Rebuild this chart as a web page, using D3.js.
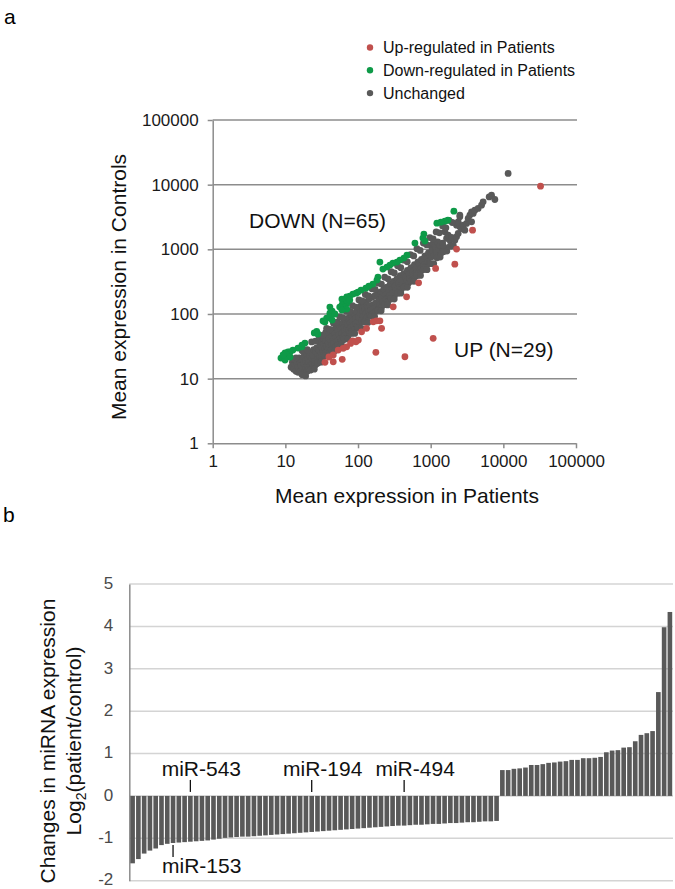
<!DOCTYPE html>
<html><head><meta charset="utf-8">
<script src="https://cdn.jsdelivr.net/npm/d3@7"></script>
<style>
body{margin:0;background:#fff}
svg{display:block}
text{font-family:"Liberation Sans",Arial,Helvetica,sans-serif}
</style>
</head><body>
<svg id="chart" width="675" height="889"></svg>
<script>
// ---------- Panel a data (Mean expression: [Patients, Controls]) ----------
const legendLabels = ["Up-regulated in Patients", "Down-regulated in Patients", "Unchanged"];
const groupLabels = ["DOWN (N=65)", "UP (N=29)"];
const logTicks = [1, 10, 100, 1000, 10000, 100000];

const upRegulated = [
  [32500,9480],[3770,1980],[2270,1010],[2150,590],[1170,507],[682,303],[466,184],[305,129],
  [200,78.5],[180,78.5],[162,75.7],[211,60],[131,60],[112,53],[1082,42],[101,39.5],[93.6,37.2],
  [84.3,38.5],[79,35.1],[69.7,31.1],[62.5,29.4],[53.4,27.7],[176,25.5],[45.6,23.2],[442,21.8],
  [60.6,19.9],[45.6,18.2],[35.1,17.9],[39.8,21.6]
];

const downRegulated = [
  [2085,3894],[1724,2825],[1568,2728],[1381,2632],[1217,2540],[806,1718],[781,1490],[832,1340],
  [607,1247],[471,813],[428,731],[377,681],[343,634],[302,612],[275,570],[250,531],[220,494],
  [200,634],[188,372],[182,334],[160,290],[141,270],[128,251],[110,234],[94,210],[85,203],
  [77,189],[70,183],[66,170],[60,170],[62,153],[70,147],[77,164],[60,137],[66,128],[56,128],
  [70,119],[60,115],[41,128],[41,103],[44,111],[37,86],[41,89.5],[35,75],[33,78],[44,80.5],
  [27,54],[25,51],[28,49],[18.6,35.5],[16.9,33],[16.9,31],[11.6,25.8],[10.9,25.8],[9.9,24.9],
  [10.5,23.2],[9.3,21.6],[8.7,20.8],[11.6,21.6],[9.9,19.4],[9.3,23.2],[14.9,29.7],[12.7,27.7],
  [100,218],[48,100]
];

const unchanged = [
  [12,15],[12.5,18],[13,14],[13,20],[13.5,16.5],[14,13],[14,19],[14.5,17],[15,12.5],[15,15],
  [15.5,21],[16,13],[16,18],[16.5,16],[17,12.5],[17,20],[17.5,14],[18,17],[18,22],[18.5,13],
  [19,15],[19,19],[19.5,24],[20,13],[20,16],[20.5,20],[21,14],[21,18],[21.5,23],[22,16],
  [22,26],[22.5,14],[23,20],[23.5,17],[24,15],[24,23],[24.5,28],[25,19],[25.5,16],[26,22],
  [26,26],[27,17],[27,30],[27.5,20],[28,24],[28.5,18],[29,27],[29.5,19],[30,22],[30,33],
  [31,25],[31,38],[32,21],[32,30],[33,27],[33,42],[34,23],[34,34],[35,29],[35,45],
  [36,25],[36,38],[36,52],[37,32],[38,27],[38,48],[39,36],[40,30],[40,42],[41,26],
  [42,39],[42,52],[43,33],[44,45],[45,29],[45,56],[46,40],[47,35],[48,50],[49,31],
  [50,44],[50,62],[52,38],[52,74],[53,55],[54,34],[55,48],[56,66],[57,42],[58,37],
  [59,58],[60,50],[61,72],[62,44],[63,40],[64,62],[65,54],[67,47],[68,78],[70,60],
  [71,42],[72,68],[74,55],[75,88],[77,50],[78,72],[78,110],[80,62],[82,95],[83,56],
  [85,78],[87,66],[89,102],[90,58],[92,84],[94,72],[96,110],[98,64],
  [102,90],[104,125],[106,72],[108,100],[110,135],[112,80],[115,110],[118,92],[120,145],[122,78],
  [125,118],[128,100],[130,155],[133,88],[136,125],[139,110],[142,170],[145,95],[148,135],[151,115],
  [155,180],[158,100],[162,140],[165,122],[170,190],[173,110],[177,150],[181,128],[185,205],[190,118],
  [195,165],[200,140],[205,220],[210,125],[215,180],[220,155],[226,240],[232,140],[238,195],[244,170],
  [250,260],[256,155],[263,215],[270,190],[277,290],[284,170],[292,240],[300,210],[308,320],[316,190],
  [325,270],[334,230],[343,350],[352,210],[362,300],[372,255],[382,390],[393,240],[404,330],[415,285],
  [427,420],[440,265],[452,370],[465,320],[478,470],[492,300],[506,410],[520,355],[535,520],[550,330],
  [566,450],[582,400],[598,580],[615,380],[632,510],[650,450],[668,640],[687,430],[706,590],[726,500],
  [746,700],[767,480],[789,650],[811,570],[834,790],[857,540],[881,720],[906,640],[932,880],[958,600],
  [985,800],
  [1000,1150],[1020,760],[1050,980],[1090,1250],[1120,820],[1160,1060],[1200,900],[1250,1300],[1300,1000],
  [1350,1150],[1400,880],[1460,1250],[1520,1094],[1567,1862],[1655,1473],[1740,1657],[1837,1387],
  [1938,1528],[2150,1387],[2270,1560],[2270,2365],[2390,1762],[2390,2660],[2520,2230],[2520,3185],
  [2520,3380],[2660,2100],[2800,2365],[2950,1980],[3120,2515],[3280,3005],[3460,3380],[3655,2660],
  [3655,3800],[3845,3590],[4055,4035],[4500,4285],[5010,4820],[5270,5420],[6380,6470],[6880,6880],
  [7640,5900],[11640,14900],
  // upper side of the unchanged band
  [14,21],[17,27],[20,28],[23,37],[26,38],[29,46],[33,47],[37,60],[41,58],[46,72],
  [50,74],[56,90],[62,88],[69,110],[76,108],[84,135],[93,128],[103,165],[114,160],[126,200],
  [140,190],[155,245],[172,240],[190,300],[210,290],[233,370],[258,350],[286,450],[316,430],[350,555],
  [388,520],[430,680],[476,640],[527,830],[584,790],[647,1020],[716,960],[793,1250],[878,1180],[972,1520],
  [1080,1450],[1190,1860],[1320,1800],[1460,2300],[1620,2150],[1790,2800],[1980,2600],
  // lower side of the unchanged band
  [17,11.5],[19,11],[22,13.5],[25,14],[28,17.5],[31,18],[35,22.5],[39,22.5],[43,27],[48,27],
  [53,33],[59,34],[66,41],[73,41],[81,50],[90,50],[100,61],[111,60],[123,75],[137,74],
  [152,92],[169,92],[187,113],[208,112],[231,140],[256,138],[284,172],[315,170],[350,212],[388,210],
  [430,260],[477,258],[530,320],[588,320],[652,395],[724,395],[803,490],[891,485],[989,600],[1100,600],
  [1220,740],[1350,760],[1500,920],[1670,940],[1850,1120],[2050,1140]
];

// ---------- Panel b data (log2 patient/control) ----------
const downLog2 = [
  -1.59,-1.49,-1.36,-1.29,-1.24,-1.16,-1.13,-1.11,-1.10,-1.09,
  -1.08,-1.07,-1.06,-1.05,-1.03,-1.01,-0.99,-0.98,-0.97,-0.96,
  -0.96,-0.95,-0.94,-0.93,-0.92,-0.91,-0.90,-0.89,-0.88,-0.87,
  -0.86,-0.85,-0.84,-0.83,-0.82,-0.81,-0.80,-0.79,-0.78,-0.77,
  -0.76,-0.75,-0.74,-0.73,-0.72,-0.71,-0.70,-0.70,-0.69,-0.68,
  -0.68,-0.67,-0.66,-0.66,-0.65,-0.64,-0.64,-0.63,-0.62,-0.62,
  -0.61,-0.60,-0.60,-0.59
];
const upLog2 = [
  0.61,0.61,0.64,0.65,0.67,0.73,0.73,0.75,0.78,0.79,
  0.81,0.82,0.85,0.85,0.89,0.89,0.90,0.92,1.03,1.07,
  1.08,1.14,1.15,1.29,1.44,1.48,1.53,2.45,3.98,4.34
];
const barTicks = [-2, -1, 0, 1, 2, 3, 4, 5];
const annotations = [
  {label: "miR-153", index: 7, side: "below"},
  {label: "miR-543", index: 10, side: "above"},
  {label: "miR-194", index: 31, side: "above"},
  {label: "miR-494", index: 47, side: "above"}
];

// ---------- drawing ----------
const svg = d3.select("#chart");
const RED = "#c0504d", GREEN = "#0e9a48", GRAY = "#595959";
const GRID = "#8c8c8c";

svg.append("text").attr("x", 4).attr("y", 24).attr("font-size", 21)
  .attr("font-family", "'Open Sans', sans-serif").text("a");
svg.append("text").attr("x", 3).attr("y", 522).attr("font-size", 21)
  .attr("font-family", "'Open Sans', sans-serif").text("b");

const sx = d3.scaleLog().domain([1, 100000]).range([212.7, 576]);
const sy = d3.scaleLog().domain([1, 100000]).range([443.3, 120]);

svg.append("g").selectAll("line").data(logTicks.filter(d => d > 1)).join("line")
  .attr("x1", 212.7).attr("x2", 577)
  .attr("y1", d => sy(d)).attr("y2", d => sy(d))
  .attr("stroke", GRID).attr("stroke-width", 1.5);

const fmt = d => String(d);
const xAxis = svg.append("g").attr("transform", "translate(0,443.3)")
  .call(d3.axisBottom(sx).tickValues(logTicks).tickFormat(fmt).tickSize(5).tickSizeOuter(0).tickPadding(7));
const yAxis = svg.append("g").attr("transform", "translate(212.7,0)")
  .call(d3.axisLeft(sy).tickValues(logTicks).tickFormat(fmt).tickSize(5).tickSizeOuter(0).tickPadding(9));
[xAxis, yAxis].forEach(g => {
  g.select(".domain").attr("stroke", GRID).attr("stroke-width", 1.5);
  g.selectAll(".tick line").attr("stroke", GRID).attr("stroke-width", 1.5);
  g.selectAll(".tick text").attr("font-size", 17).attr("fill", "#1a1a1a")
    .attr("font-family", "'Liberation Sans', Arial, sans-serif");
});

svg.append("text").attr("x", 407).attr("y", 503).attr("text-anchor", "middle")
  .attr("font-size", 21).attr("fill", "#111").text("Mean expression in Patients");
svg.append("text").attr("transform", "translate(126,287) rotate(-90)").attr("text-anchor", "middle")
  .attr("font-size", 21).attr("fill", "#111").text("Mean expression in Controls");

const groups = [
  {data: unchanged, color: GRAY},
  {data: downRegulated, color: GREEN},
  {data: upRegulated, color: RED}
];
groups.forEach(g => {
  svg.append("g").selectAll("circle").data(g.data).join("circle")
    .attr("cx", d => sx(d[0])).attr("cy", d => sy(d[1])).attr("r", 3.4)
    .attr("fill", g.color);
});

svg.append("text").attr("x", 249).attr("y", 228).attr("font-size", 21).attr("fill", "#111").text(groupLabels[0]);
svg.append("text").attr("x", 454).attr("y", 357).attr("font-size", 21).attr("fill", "#111").text(groupLabels[1]);

const legColors = [RED, GREEN, GRAY];
const leg = svg.append("g").selectAll("g").data(legendLabels).join("g")
  .attr("transform", (d, i) => `translate(370,${47.5 + i * 22.8})`);
leg.append("circle").attr("r", 3.2).attr("fill", (d, i) => legColors[i]);
leg.append("text").attr("x", 13).attr("dy", "0.35em").attr("font-size", 16).attr("fill", "#111").text(d => d);

// ---------- Bar chart ----------
const barValues = downLog2.concat(upLog2);
const bx = d3.scaleBand().domain(d3.range(barValues.length)).range([130, 672.5]).paddingInner(0.2).paddingOuter(0.05);
const by = d3.scaleLinear().domain([-2, 5]).range([880.7, 584]);

svg.append("g").selectAll("line").data(barTicks).join("line")
  .attr("x1", 129.3).attr("x2", 673)
  .attr("y1", d => by(d)).attr("y2", d => by(d))
  .attr("stroke", "#d4d4d4").attr("stroke-width", 1.5);

const bAxis = svg.append("g").attr("transform", "translate(129.3,0)")
  .call(d3.axisLeft(by).tickValues(barTicks).tickFormat(fmt).tickSize(0).tickSizeOuter(0).tickPadding(16));
bAxis.select(".domain").attr("stroke", "#8c8c8c").attr("stroke-width", 1.5);
bAxis.selectAll(".tick text").attr("font-size", 17).attr("fill", "#4a4a4a").attr("dy", "0.25em")
  .attr("font-family", "'Liberation Sans', Arial, sans-serif");

svg.append("g").selectAll("rect").data(barValues).join("rect")
  .attr("x", (d, i) => bx(i)).attr("width", bx.bandwidth())
  .attr("y", d => by(Math.max(0, d))).attr("height", d => Math.abs(by(d) - by(0)))
  .attr("fill", GRAY);

annotations.forEach(a => {
  const cx = bx(a.index) + bx.bandwidth() / 2;
  if (a.side === "above") {
    svg.append("line").attr("x1", cx).attr("x2", cx).attr("y1", by(0) - 4).attr("y2", by(0) - 16)
      .attr("stroke", "#111").attr("stroke-width", 1.3);
    svg.append("text").attr("x", cx + 11).attr("y", by(0) - 20).attr("text-anchor", "middle")
      .attr("font-size", 21).attr("fill", "#111").text(a.label);
  } else {
    const yb = by(barValues[a.index]);
    svg.append("line").attr("x1", cx).attr("x2", cx).attr("y1", yb + 2).attr("y2", yb + 14)
      .attr("stroke", "#111").attr("stroke-width", 1.3);
    svg.append("text").attr("x", cx - 11).attr("y", yb + 30).attr("text-anchor", "start")
      .attr("font-size", 21).attr("fill", "#111").text(a.label);
  }
});

svg.append("text").attr("transform", "translate(55,741) rotate(-90)").attr("text-anchor", "middle")
  .attr("font-size", 21).attr("fill", "#111").text("Changes in miRNA expression");
const t2 = svg.append("text").attr("transform", "translate(81,741) rotate(-90)").attr("text-anchor", "middle")
  .attr("font-size", 21).attr("fill", "#111");
t2.append("tspan").text("Log");
t2.append("tspan").attr("font-size", 14).attr("dy", 5).text("2");
t2.append("tspan").attr("dy", -5).text("(patient/control)");
</script>
</body></html>
